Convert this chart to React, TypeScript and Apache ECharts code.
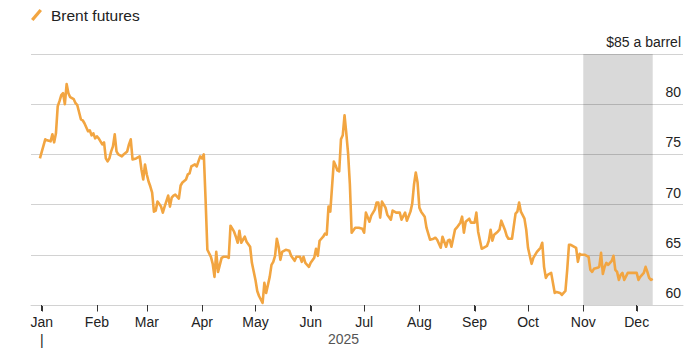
import React, { useEffect, useRef } from "react";
import * as echarts from "echarts";

const YEAR = 2025;
const monthLabels = ["Jan", "Feb", "Mar", "Apr", "May", "Jun", "Jul", "Aug", "Sep", "Oct", "Nov", "Dec"];
const yTicks = [60, 65, 70, 75, 80, 85];
const topTickLabel = "$85 a barrel";
const yearLabel = "2025";
const seriesName = "Brent futures";
const bandStartDay = 304; // Nov 1 (day of year, 0 = Jan 1)

// trading day (day of year 2025, 0 = Jan 1)
const tradeDay = [
  -1, 2, 3, 5, 6, 7, 8, 9, 10, 11, 12, 13, 14, 15, 16, 18, 19, 20, 21, 22, 23, 24, 25, 26, 27, 28, 29, 30, 31, 32,
  33, 34, 35, 36, 37, 38, 39, 40, 41, 42, 43, 45, 46, 48, 49, 50, 51, 53, 55, 56, 57, 58, 59, 60, 61, 62, 63, 64, 65,
  67, 68, 69, 71, 72, 73, 74, 75, 77, 78, 79, 81, 82, 83, 84, 86, 87, 88, 89, 90, 91, 92, 93,
  95, 96, 97, 98, 99, 101, 102, 104, 105, 106, 108, 109, 110, 111, 112, 114, 115, 117, 118, 120, 121, 122, 124, 125,
  126, 128, 129, 130, 131, 132, 133, 134, 135, 137, 139, 140, 142, 143, 145, 146, 147, 148, 150, 151, 153, 154, 155,
  156, 158, 159, 160, 161, 162, 164, 165, 166, 167, 168, 169, 170, 171, 172, 173, 174, 176, 178, 180, 181,
  182, 184, 185, 187, 188, 189, 190, 191, 193, 194, 196, 197, 199, 201, 202, 204, 205, 207, 208, 209, 210, 211, 212,
  213, 215, 216, 218, 220, 221, 222, 224, 225, 227, 228, 229, 230, 232, 233, 235, 236, 237, 238, 240, 241, 243, 244,
  245, 247, 248, 250, 251, 252, 253, 254, 256, 257, 258, 260, 261, 262, 264, 266, 267, 268, 269, 271, 272, 273, 275,
  276, 278, 280, 281, 282, 283, 284, 286, 287, 288, 289, 291, 292, 294, 295, 296, 297, 298, 300, 301, 302, 303, 305,
  307, 308, 309, 310, 312, 313, 314, 315, 316, 317, 318, 319, 320, 321, 322, 323, 324, 325, 326, 327, 329, 330, 332,
  334, 335, 336, 338, 339, 340, 341, 342, 343,
];

// Brent futures settlement, $ a barrel
const brentPrice = [
  74.6, 76.5, 76.4, 76.3, 77.0, 76.2, 77.1, 79.8, 80.3, 80.9, 81.1, 80.0, 82.0, 81.1, 80.7, 80.5, 80.1, 79.9, 79.2, 78.5,
  78.4, 78.1, 77.7, 77.3, 77.4, 76.9, 77.1, 76.6, 76.8, 76.6,
  76.3, 76.0, 76.2, 74.6, 74.3, 74.6, 75.3, 75.8, 77.0, 75.3, 75.0, 74.8, 75.0, 75.3, 76.0, 76.5, 74.5, 74.6, 74.8,
  73.5, 72.5, 74.0, 73.0, 72.3, 71.8, 71.2, 69.3, 69.4, 70.3,
  69.8, 69.2, 69.8, 70.9, 69.8, 70.7, 70.9, 71.0, 70.6, 71.9, 72.2, 72.5, 73.0, 73.1, 73.8, 74.0, 73.8, 74.3, 74.8,
  74.6, 75.0, 70.5, 65.5,
  64.8, 64.1, 62.8, 65.3, 63.3, 64.7, 64.8, 64.8, 64.7, 67.9, 67.3, 66.8, 66.2, 67.4, 66.2, 66.8, 66.3, 65.8, 64.2,
  62.5, 61.4, 60.9, 60.2, 62.2,
  61.2, 62.8, 64.0, 64.3, 64.9, 66.6, 65.8, 64.5, 65.3, 65.5, 65.4, 64.9, 64.4, 64.8, 64.8, 64.3, 64.8, 64.2, 63.8,
  64.2, 64.7, 65.6, 64.9,
  66.4, 66.8, 67.1, 67.0, 69.8, 69.3, 74.3, 73.9, 73.4, 73.3, 76.5, 76.9, 78.9, 77.1, 75.1, 72.0, 67.2, 67.7, 67.7,
  67.6, 67.2,
  69.2, 68.3, 68.9, 69.5, 70.2, 70.2, 68.7, 70.3, 69.7, 69.0, 68.5, 69.4, 69.2, 69.2, 68.5, 69.2, 68.4, 69.3, 70.1,
  72.0, 73.2, 72.2, 69.7,
  69.3, 68.8, 67.7, 66.5, 66.6, 66.7, 66.5, 65.7, 66.8, 65.8, 66.4, 66.5, 65.8, 67.5, 67.7, 68.2, 68.8, 67.2, 68.3,
  68.6, 68.2, 68.2, 69.2,
  67.3, 65.6, 65.7, 65.9, 66.4, 67.5, 66.4, 67.0, 67.3, 67.5, 68.4, 67.5, 66.9, 66.6, 66.6, 69.1, 69.3, 70.2, 69.3,
  68.6, 67.5, 65.7, 64.1,
  64.7, 65.3, 65.7, 66.2, 63.8, 62.7, 63.0, 63.2, 62.2, 61.2, 61.3, 61.2, 61.0, 61.4, 63.5, 66.0, 66.0, 65.9, 65.7,
  64.3, 65.1, 65.0, 65.0,
  64.8, 63.5, 63.3, 63.6, 63.7, 63.8, 65.2, 63.1, 63.8, 64.2, 64.0, 64.2, 64.4, 64.9, 63.5, 63.3, 62.5, 63.0, 63.2,
  62.5, 63.2, 63.2, 63.2,
  63.2, 62.5, 62.8, 63.2, 63.8, 63.3, 62.7, 62.5, 62.6,
];

const FONT = "'Liberation Sans', Arial, Helvetica, sans-serif";
const ORANGE = "#f2a541";
const GRID = "#d2d2d2";

export default function App() {
  const ref = useRef<HTMLDivElement>(null);

  useEffect(() => {
    if (!ref.current) return;
    const chart = echarts.init(ref.current, null, { renderer: "svg" });
    const DAY = 86400000;
    const t0 = Date.UTC(YEAR, 0, 1);
    const data = tradeDay.map((d, i) => [t0 + d * DAY, brentPrice[i]]);
    const lastT = data[data.length - 1][0];
    const monthStarts = monthLabels.map((_, m) => Date.UTC(YEAR, m, 1));

    chart.setOption({
      animation: false,
      useUTC: true,
      textStyle: { fontFamily: FONT },
      grid: { left: 31, right: 17, top: 54, bottom: 57 },
      legend: {
        left: 31,
        top: 7,
        padding: 0,
        icon: "path://M0,10 L8.5,0 L11,2 L2.5,12 Z",
        itemWidth: 11,
        itemHeight: 12,
        itemStyle: { color: ORANGE },
        textStyle: { fontSize: 15.5, color: "#222", fontFamily: FONT, padding: [0, 0, 0, 4] },
        data: [seriesName],
      },
      xAxis: {
        type: "time",
        min: t0 - 6 * DAY,
        max: t0 + 360 * DAY,
        splitNumber: 12,
        minInterval: 28 * DAY,
        maxInterval: 31 * DAY,
        axisLine: { lineStyle: { color: GRID, width: 1 } },
        axisTick: { show: true, length: 6, lineStyle: { color: "#333", width: 1 } },
        minorTick: { show: false },
        splitLine: { show: false },
        axisLabel: {
          fontSize: 14,
          color: "#222",
          margin: 8,
          lineHeight: 18,
          hideOverlap: false,
          showMinLabel: false,
          showMaxLabel: false,
          formatter: (v: number) => {
            const dt = new Date(v);
            if (dt.getUTCDate() !== 1) return "";
            const m = dt.getUTCMonth();
            return m === 0 ? monthLabels[m] + "\n|" : monthLabels[m];
          },
        },
      },
      yAxis: {
        type: "value",
        position: "right",
        min: yTicks[0],
        max: yTicks[yTicks.length - 1],
        interval: 5,
        axisLine: { show: false },
        axisTick: { show: false },
        splitLine: { lineStyle: { color: GRID, width: 1 } },
        axisLabel: {
          inside: true,
          margin: 2,
          fontSize: 14,
          color: "#222",
          verticalAlign: "bottom",
          padding: [0, 0, 5, 0],
          formatter: (v: number) => (v === yTicks[yTicks.length - 1] ? topTickLabel : String(v)),
        },
      },
      series: [
        {
          type: "line",
          name: seriesName,
          data,
          symbol: "none",
          showSymbol: false,
          lineStyle: { color: ORANGE, width: 2.6, join: "round" },
          itemStyle: { color: ORANGE },
          markArea: {
            silent: true,
            itemStyle: { color: "rgba(0,0,0,0.15)" },
            data: [[{ xAxis: t0 + bandStartDay * DAY }, { xAxis: lastT }]],
          },
        },
      ],
    });

    // month tick marks placed through the x axis scale
    const axisY = chart.convertToPixel({ yAxisIndex: 0 }, yTicks[0]) as number;
    const tickEls = monthStarts.map((t) => {
      const x = Math.round(chart.convertToPixel({ xAxisIndex: 0 }, t) as number) + 0.5;
      return {
        type: "line",
        silent: true,
        shape: { x1: x, y1: axisY + 0.5, x2: x, y2: axisY + 6.5 },
        style: { stroke: "#333", lineWidth: 1 },
      };
    });
    chart.setOption({
      graphic: [
        ...tickEls,
        {
          type: "text",
          left: 328,
          top: 332,
          style: { text: yearLabel, fontSize: 14, fill: "#555", fontFamily: FONT },
        },
      ],
    });

    return () => chart.dispose();
  }, []);

  return (
    <div
      ref={ref}
      style={{ position: "absolute", left: 0, top: 0, width: 700, height: 362, background: "#fff" }}
    />
  );
}
